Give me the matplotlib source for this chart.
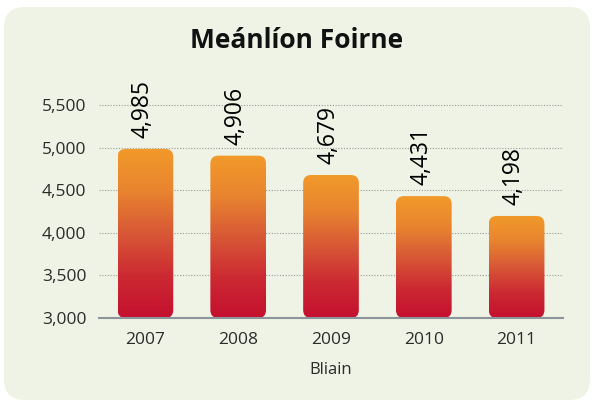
import matplotlib
matplotlib.use("Agg")
import matplotlib.pyplot as plt
import numpy as np
from matplotlib.patches import FancyBboxPatch
from matplotlib.colors import LinearSegmentedColormap

years = ["2007", "2008", "2009", "2010", "2011"]
values = [4985, 4906, 4679, 4431, 4198]
value_labels = ["4,985", "4,906", "4,679", "4,431", "4,198"]
yticks = [3000, 3500, 4000, 4500, 5000, 5500]
ytick_labels = ["3,000", "3,500", "4,000", "4,500", "5,000", "5,500"]
title = "Meánlíon Foirne"
xlabel = "Bliain"

plt.rcParams['font.family'] = ['Open Sans', 'DejaVu Sans']

W, H = 592, 403
fig = plt.figure(figsize=(W / 100, H / 100), dpi=100)
fig.patch.set_facecolor("white")

# background panel
panel = FancyBboxPatch((4 / W, 3 / H), 586 / W, 393 / H,
                       boxstyle="round,pad=0,rounding_size=0.035",
                       mutation_aspect=W / H,
                       transform=fig.transFigure, facecolor="#eef3e5",
                       edgecolor="none", zorder=-10)
fig.patches.append(panel)

ax = fig.add_axes([99 / W, 1 - 318 / H, 464 / W, (318 - 71) / H])
ax.set_zorder(5)
ax.set_facecolor("none")
ax.set_xlim(-0.5, 4.5)
ymin, ymax = 3000, 5900
ax.set_ylim(ymin, ymax)

x = np.arange(len(years))
bars = ax.bar(x, [v - ymin for v in values], bottom=ymin, width=0.6,
              color="none", edgecolor="none")

cmap = LinearSegmentedColormap.from_list(
    "g", ["#c4102f", "#cc2a32", "#d85836", "#e8842f", "#f29a2a"])
grad = np.linspace(0, 1, 256).reshape(-1, 1)

# data units per pixel
px_x = 5.0 / 464
px_y = (ymax - ymin) / (318 - 71)
aspect = px_y / px_x

for b in bars:
    x0, y0 = b.get_x(), b.get_y()
    w, h = b.get_width(), b.get_height()
    patch = FancyBboxPatch((x0, y0), w, h,
                           boxstyle="round,pad=0,rounding_size=%f" % (8 * px_x),
                           mutation_aspect=aspect,
                           facecolor="none", edgecolor="none")
    ax.add_patch(patch)
    im = ax.imshow(grad, cmap=cmap, origin="lower", aspect="auto",
                   extent=(x0, x0 + w, y0, y0 + h), zorder=3,
                   interpolation="bilinear")
    im.set_clip_path(patch)

for xi, v, lab in zip(x, values, value_labels):
    ax.annotate(lab, (xi, v), xytext=(-2, 8), textcoords="offset points",
                rotation=90, ha="center", va="bottom", fontsize=16.5,
                fontweight="medium", color="#000000")

ax.set_xlim(-0.5, 4.5)
ax.set_ylim(ymin, ymax)
ax.set_yticks(yticks)
ax.set_yticklabels(ytick_labels)
ax.set_xticks(x)
ax.set_xticklabels(years)
ax.tick_params(axis="both", length=0, labelsize=12.5, colors="#2b2b2b")
ax.tick_params(axis="x", pad=10)
ax.tick_params(axis="y", pad=9)

ax.grid(axis="y", color="#9a9a9a", linestyle=(0, (1, 1.5)), linewidth=0.8)
ax.set_axisbelow(True)
for s in ["top", "right", "left"]:
    ax.spines[s].set_visible(False)
ax.spines["bottom"].set_color("#8c949c")
ax.spines["bottom"].set_linewidth(1.5)
ax.spines["bottom"].set_zorder(4)

ax.set_xlabel(xlabel, fontsize=12, color="#2b2b2b", labelpad=10)

fig.text(297 / W, 1 - 40 / H, title, ha="center", va="center",
         fontsize=19, fontweight="bold", color="#111111")

fig.savefig("out.png", dpi=100, facecolor=fig.get_facecolor())
